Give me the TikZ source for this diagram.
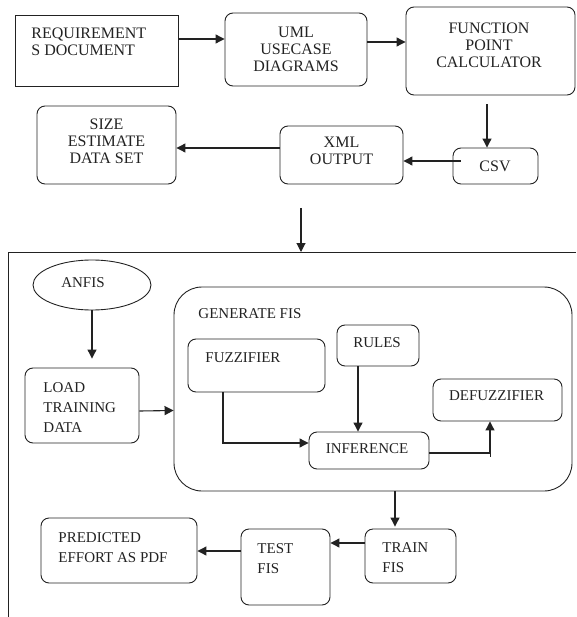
\documentclass[tikz,border=0pt]{standalone}
\usepackage{fontspec}
\setmainfont{Liberation Serif}
\usetikzlibrary{arrows.meta,shapes.geometric}
\definecolor{ink}{HTML}{222222}
\begin{document}
\begin{tikzpicture}[x=1pt,y=-1pt,
  line width=0.9pt, draw=ink,
  sharpbox/.style={draw=ink, line width=0.9pt, inner sep=0pt},
  rbox/.style={draw=ink, line width=0.9pt, inner sep=0pt, rounded corners=8pt},
  txtc/.style={inner sep=0pt, text=ink, align=center, anchor=north, font=\fontsize{16}{17}\selectfont},
  txtl/.style={inner sep=0pt, text=ink, align=left, anchor=north west, font=\fontsize{16}{17}\selectfont},
  txtcs/.style={inner sep=0pt, text=ink, align=center, anchor=north, font=\fontsize{15}{20}\selectfont},
  txtls/.style={inner sep=0pt, text=ink, align=left, anchor=north west, font=\fontsize{15}{20}\selectfont},
  arr/.style={draw=ink, line width=1.1pt, -{Triangle[length=9pt,width=9pt]}},
  conn/.style={draw=ink, line width=1pt}
]
\useasboundingbox (0,0) rectangle (576,617);

% ---------- top part ----------
\node[sharpbox, minimum width=163pt, minimum height=71pt] (req) at (96.5,50.5) {};
\node[txtl] (reqt) at (31,27) {REQUIREMENT\\S DOCUMENT};

\node[rbox, minimum width=142pt, minimum height=73pt] (uml) at (296,49.5) {};
\node[txtc] (umlt) at (296,27) {UML\\USECASE\\DIAGRAMS};

\node[rbox, minimum width=169pt, minimum height=88pt] (fp) at (490.5,51) {};
\node[txtc] (fpt) at (489,22) {FUNCTION\\POINT\\CALCULATOR};

\node[rbox, minimum width=139pt, minimum height=78pt] (size) at (106.5,145) {};
\node[txtc] (sizet) at (106.5,118) {SIZE\\ESTIMATE\\DATA SET};

\node[rbox, minimum width=123pt, minimum height=58pt] (xml) at (341.5,155) {};
\node[txtc] (xmlt) at (341.5,137) {XML\\OUTPUT};

\node[rbox, minimum width=85pt, minimum height=36pt] (csv) at (495.5,166) {};
\node[txtc] (csvt) at (495,160) {CSV};

\draw[arr] ([yshift=11.5pt]req.east) -- ([yshift=10.5pt]uml.west);
\draw[arr] ([yshift=7.5pt]uml.east) -- ([yshift=9pt]fp.west);
\draw[arr] ([xshift=-3.5pt,yshift=-9pt]fp.south) -- ([xshift=-8.5pt]csv.north);
\draw[arr] ([xshift=8pt,yshift=5pt]csv.west) -- ([yshift=-6pt]xml.east);
\draw[arr] ([yshift=7pt]xml.west) -- ([yshift=-3pt]size.east);

% ---------- container ----------
\coordinate (ctl) at (8,252);
\coordinate (ctr) at (576,252);
\coordinate (cbl) at (8,617);
\draw[conn] (ctr) -- (ctl) -- (cbl);
\coordinate (dstart) at (301,208);
\draw[arr] (dstart) -- (dstart |- ctl);

% ---------- lower part ----------
\node[draw=ink, line width=0.9pt, ellipse, minimum width=118pt, minimum height=50pt, inner sep=0pt] (anfis) at (92,285) {};
\node[txtcs] (anfist) at (83,277) {ANFIS};

\node[rbox, minimum width=114pt, minimum height=75pt] (load) at (82,405.5) {};
\node[txtls] (loadt) at (43,382) {LOAD\\TRAINING\\DATA};

\node[draw=ink, line width=0.9pt, inner sep=0pt, rounded corners=28pt, minimum width=398pt, minimum height=204pt] (gen) at (373,389) {};
\node[txtls] (gent) at (198,308) {GENERATE FIS};

\node[rbox, minimum width=137pt, minimum height=53pt] (fuzz) at (256.5,365.5) {};
\node[txtls] (fuzzt) at (205,352) {FUZZIFIER};

\node[rbox, minimum width=82pt, minimum height=41pt] (rules) at (378,345.5) {};
\node[txtcs] (rulest) at (377,337) {RULES};

\node[rbox, minimum width=129pt, minimum height=42pt] (defuz) at (497.5,400) {};
\node[txtcs] (defuzt) at (496.5,390) {DEFUZZIFIER};

\node[rbox, minimum width=120pt, minimum height=37pt] (inf) at (369,450.5) {};
\node[txtcs] (inft) at (367,443) {INFERENCE};

\node[rbox, minimum width=91pt, minimum height=54pt] (train) at (410.5,556) {};
\node[txtls] (traint) at (382,542) {TRAIN\\FIS};

\node[rbox, minimum width=89pt, minimum height=76pt] (test) at (285.5,567) {};
\node[txtls] (testt) at (257,543) {TEST\\FIS};

\node[rbox, minimum width=156pt, minimum height=65pt] (pred) at (119,550.5) {};
\node[txtls] (predt) at (58,532) {PREDICTED\\EFFORT AS PDF};

\draw[arr] (anfis.south) -- ([xshift=10pt,yshift=9pt]load.north);
\draw[arr] ([yshift=-5.5pt]load.east) -- ([yshift=-21.5pt]gen.west);
\draw[arr] ([xshift=-33.5pt]fuzz.south) |- ([yshift=7.5pt]inf.west);
\draw[arr] ([xshift=-20pt]rules.south) -- ([xshift=-11pt]inf.north);
\draw[arr] ([yshift=-2.5pt]inf.east) -| ([xshift=-7.5pt]defuz.south);
\draw[conn] ([xshift=-7.5pt,yshift=-32pt]defuz.south) -- ([xshift=-7.5pt,yshift=-36pt]defuz.south);
\draw[arr] ([xshift=22pt]gen.south) -- ([xshift=-15.5pt,yshift=2pt]train.north);
\draw[arr] ([yshift=13pt]train.west) -- ([yshift=24pt]test.east);
\draw[arr] ([yshift=16pt]test.west) -- ([yshift=-0.5pt]pred.east);
\end{tikzpicture}
\end{document}
